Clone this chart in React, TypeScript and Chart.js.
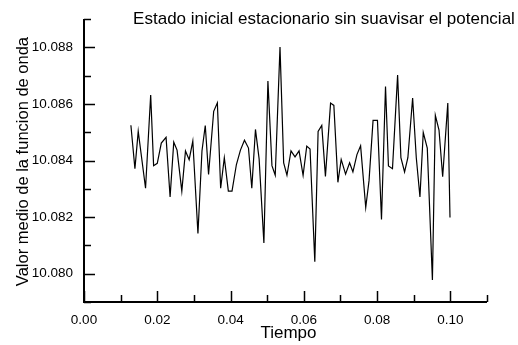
import React, { useEffect, useRef } from "react";
import { Chart, registerables } from "chart.js";

Chart.register(...registerables);

const TITLE = "Estado inicial estacionario sin suavisar el potencial";
const X_TITLE = "Tiempo";
const Y_TITLE = "Valor medio de la funcion de onda";

const TIME = [
  0.0128, 0.0139, 0.0148, 0.0168, 0.0182, 0.019, 0.02, 0.0211, 0.0224, 0.0235, 0.0245, 0.0254, 0.0267, 0.0277, 0.0287,
  0.0297, 0.0311, 0.0322, 0.0331, 0.034, 0.0354, 0.0364,
  0.0373, 0.0383, 0.0394, 0.0404, 0.0416, 0.0427, 0.0438, 0.0449, 0.0458, 0.0468, 0.0478, 0.0491, 0.0502, 0.0513,
  0.0522, 0.0535, 0.0545, 0.0554, 0.0565, 0.0576, 0.0587, 0.0598, 0.0608,
  0.0617, 0.063, 0.0639, 0.0649, 0.0659, 0.0673, 0.0682, 0.0693, 0.0702, 0.0714, 0.0725, 0.0734, 0.0745, 0.0755,
  0.0769, 0.0778, 0.0789, 0.0801, 0.0812, 0.0823, 0.0831, 0.0842, 0.0856,
  0.0865, 0.0875, 0.0884, 0.0897, 0.0907, 0.0917, 0.0926, 0.0937, 0.0951, 0.0959, 0.0969, 0.0979, 0.0993, 0.0999,
];

const MEAN = [
  10.08525, 10.08371, 10.08503, 10.08302, 10.08632, 10.08382, 10.0839, 10.08462, 10.08482, 10.08271, 10.08465,
  10.08437, 10.08292, 10.08434, 10.08403, 10.08469, 10.08142, 10.08434, 10.08524, 10.08351, 10.08574, 10.08604,
  10.08302, 10.0841, 10.08292, 10.08292, 10.08386, 10.08437, 10.08472, 10.08444, 10.08302, 10.0851, 10.08406,
  10.08109, 10.08681, 10.08382, 10.08348, 10.08801, 10.08392, 10.08348, 10.08434, 10.08413, 10.08434, 10.08348,
  10.08451,
  10.08441, 10.08042, 10.08503, 10.08524, 10.08344, 10.08603, 10.08595, 10.08323, 10.08404, 10.08352, 10.08392,
  10.0836, 10.08421, 10.08452, 10.08234, 10.08329, 10.08542, 10.08542, 10.08192, 10.08662, 10.08381, 10.08371,
  10.08702,
  10.0841, 10.0836, 10.0841, 10.08621, 10.0841, 10.08271, 10.08499, 10.08444, 10.07978, 10.0856, 10.08508,
  10.08343, 10.08603, 10.08199,
];

const X_TICKS = [0.0, 0.02, 0.04, 0.06, 0.08, 0.1];
const X_MINOR = [0.01, 0.03, 0.05, 0.07, 0.09, 0.11];
const Y_TICKS = [10.08, 10.082, 10.084, 10.086, 10.088];
const Y_MINOR = [10.079, 10.081, 10.083, 10.085, 10.087, 10.089];

const FONT = "'Liberation Sans', Arial, Helvetica, sans-serif";

const framePlugin = {
  id: "frame",
  afterDraw(chart: any) {
    const { ctx, chartArea: a, scales } = chart;
    const x = scales.x;
    const y = scales.y;
    ctx.save();
    ctx.strokeStyle = "#000";
    ctx.lineWidth = 2;
    ctx.beginPath();
    ctx.moveTo(a.left, a.top);
    ctx.lineTo(a.left, a.bottom);
    ctx.lineTo(a.right, a.bottom);
    ctx.stroke();
    ctx.lineWidth = 1.5;
    ctx.beginPath();
    X_TICKS.forEach((v) => {
      const p = Math.round(x.getPixelForValue(v)) + 0.5;
      ctx.moveTo(p, a.bottom);
      ctx.lineTo(p, a.bottom - 11);
    });
    X_MINOR.forEach((v) => {
      const p = Math.round(x.getPixelForValue(v)) + 0.5;
      ctx.moveTo(p, a.bottom);
      ctx.lineTo(p, a.bottom - 7);
    });
    Y_TICKS.forEach((v) => {
      const p = Math.round(y.getPixelForValue(v)) + 0.5;
      ctx.moveTo(a.left, p);
      ctx.lineTo(a.left + 11, p);
    });
    Y_MINOR.forEach((v) => {
      const p = Math.round(y.getPixelForValue(v)) + 0.5;
      ctx.moveTo(a.left, p);
      ctx.lineTo(a.left + 7, p);
    });
    ctx.stroke();

    ctx.fillStyle = "#000";
    ctx.textBaseline = "alphabetic";
    ctx.textAlign = "center";

    // chart title
    ctx.font = `17px ${FONT}`;
    ctx.fillText(TITLE, 324, 24);

    // x axis title
    ctx.font = `17px ${FONT}`;
    ctx.fillText(X_TITLE, (a.left + a.right) / 2 + 3, 337.5);

    // y axis title
    ctx.font = `16.5px ${FONT}`;
    ctx.translate(28, (a.top + a.bottom) / 2 + 1);
    ctx.rotate(-Math.PI / 2);
    ctx.fillText(Y_TITLE, 0, 0);
    ctx.restore();
  },
};

export default function App() {
  const ref = useRef<HTMLCanvasElement | null>(null);

  useEffect(() => {
    if (!ref.current) return;
    const chart = new Chart(ref.current, {
      type: "line",
      data: {
        datasets: [
          {
            data: TIME.map((t, i) => ({ x: t, y: MEAN[i] })),
            borderColor: "#000",
            borderWidth: 1.2,
            pointRadius: 0,
            tension: 0,
            fill: false,
          },
        ],
      },
      options: {
        animation: false,
        responsive: false,
        devicePixelRatio: 1,
        layout: { padding: { top: 13, right: 31, bottom: 0, left: 0 } },
        plugins: { legend: { display: false }, tooltip: { enabled: false }, title: { display: false } },
        scales: {
          x: {
            type: "linear",
            min: 0,
            max: 0.11,
            afterBuildTicks: (s: any) => {
              s.ticks = X_TICKS.map((v) => ({ value: v }));
            },
            afterFit: (s: any) => {
              s.height = 43;
            },
            grid: { display: false, drawTicks: false },
            border: { display: false },
            ticks: {
              autoSkip: false,
              maxRotation: 0,
              padding: 10,
              color: "#000",
              font: { family: FONT, size: 13.5 },
              callback: (v: any) => Number(v).toFixed(2),
            },
            title: { display: false },
          },
          y: {
            type: "linear",
            min: 10.079,
            max: 10.089,
            afterBuildTicks: (s: any) => {
              s.ticks = Y_TICKS.map((v) => ({ value: v }));
            },
            afterFit: (s: any) => {
              s.width = 84;
            },
            grid: { display: false, drawTicks: false },
            border: { display: false },
            ticks: {
              autoSkip: false,
              padding: 11,
              color: "#000",
              font: { family: FONT, size: 13.5 },
              callback: (v: any) => Number(v).toFixed(3),
            },
            title: { display: false },
          },
        },
      },
      plugins: [framePlugin],
    });
    return () => chart.destroy();
  }, []);

  return (
    <div style={{ position: "absolute", left: 0, top: 0, width: 518, height: 345, background: "#fff" }}>
      <canvas ref={ref} width={518} height={345} style={{ display: "block" }} />
    </div>
  );
}
